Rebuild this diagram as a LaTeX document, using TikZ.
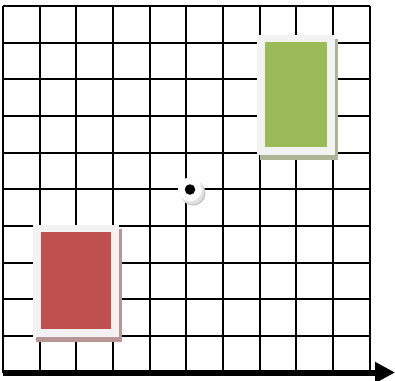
\documentclass[tikz,border=0pt]{standalone}
\usetikzlibrary{arrows.meta}
\definecolor{cardred}{RGB}{192,80,77}
\definecolor{cardgreen}{RGB}{155,187,89}
\definecolor{frame}{RGB}{242,242,242}
\definecolor{redshadow}{RGB}{184,150,150}
\definecolor{greenshadow}{RGB}{172,182,150}
\begin{document}
\begin{tikzpicture}[x=1pt,y=-1pt,
  gridline/.style={line width=2pt,black},
  cardshadow/.style={inner sep=0pt,minimum width=78pt,minimum height=112pt},
  cardframe/.style={fill=frame,inner sep=0pt},
  axisline/.style={line width=6pt,-{Triangle[length=20pt,width=20pt]}}]
\useasboundingbox (0,0) rectangle (395,380);
\fill[white] (0,0) rectangle (395,380);
% grid
\foreach \i in {0,...,10}{
  \draw[gridline] ({3+36.65*\i},6) -- ({3+36.65*\i},372.5);
  \draw[gridline] (3,{6+36.65*\i}) -- (369.5,{6+36.65*\i});
}
% green card
\fill[greenshadow] (260,39) rectangle (338,160);
\node[cardframe,minimum width=78pt,minimum height=120pt] (gframe) at (296,95) {};
\node[fill=cardgreen,inner sep=0pt,minimum width=62pt,minimum height=105pt] (gcard) at (296,94.5) {};
% red card
\fill[redshadow] (36,229) rectangle (122,342);
\node[cardframe,minimum width=86pt,minimum height=112pt] (rframe) at (76,281) {};
\node[fill=cardred,inner sep=0pt,minimum width=70pt,minimum height=97pt] (rcard) at (76,280.5) {};
% dot
\fill[black!25] (193,193) circle (12.5pt);
\fill[black!12] (192,192) circle (12.5pt);
\node[circle,fill=white,inner sep=0pt,minimum size=24pt] (dotbg) at (190,189.5) {};
\node[circle,fill=black,inner sep=0pt,minimum size=10.5pt] (dot) at (190,189.5) {};
% axis
\coordinate (axstart) at (3,372.5);
\coordinate (axend) at (395,372.5);
\draw[axisline] (axstart) -- (axend);
\end{tikzpicture}
\end{document}
